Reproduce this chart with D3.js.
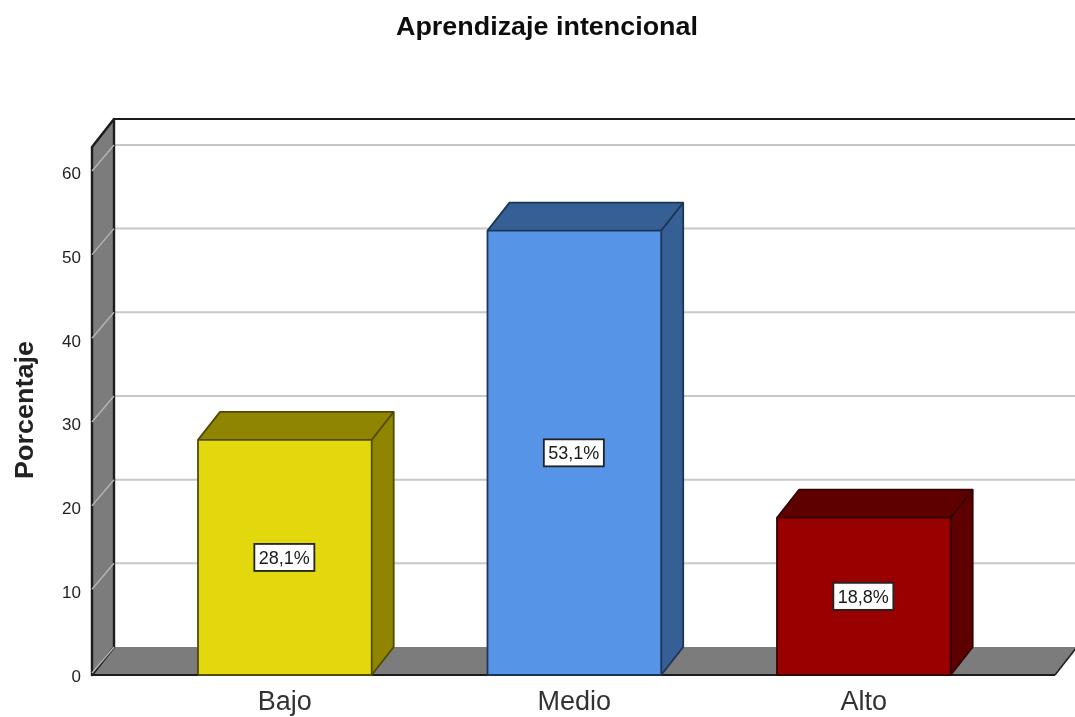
<!DOCTYPE html>
<html><head><meta charset="utf-8">
<script src="https://cdnjs.cloudflare.com/ajax/libs/d3/7.8.5/d3.min.js"></script>
<style>html,body{margin:0;padding:0;background:#fff}svg{display:block}text{font-family:"Liberation Sans",Arial,sans-serif}</style>
</head><body><svg id="c" width="1075" height="717"></svg>
<script>
const categories = ["Bajo","Medio","Alto"];
const values = [28.1,53.1,18.8];
const labels = ["28,1%","53,1%","18,8%"];
const frontColors = ["#e3d80f","#5594e6","#990000"];
const darkColors = ["#8f8506","#355f95","#5e0000"];
const yTicks = [0,10,20,30,40,50,60];
const title = "Aprendizaje intencional";
const yTitle = "Porcentaje";

const W=1075,H=717, dx=22, dy=-28, x0=92, x1=1055;
const svg=d3.select("#c");
const defs=svg.append("defs");
defs.append("filter").attr("id","soft").attr("filterUnits","userSpaceOnUse").attr("x",0).attr("y",0).attr("width",W).attr("height",H).append("feGaussianBlur").attr("stdDeviation",0.6);
const g=svg.append("g").attr("filter","url(#soft)");
const y=d3.scaleLinear().domain([0,63.1]).range([675,147]);
const x=d3.scaleBand().domain(categories).range([140.1,1008.6]).paddingInner(0.4).paddingOuter(0.2);
const wall="#7b7b7b", ink="#1c1c1c";
const pts=a=>a.map(p=>p.join(",")).join(" ");

g.append("rect").attr("width",W).attr("height",H).attr("fill","#fff");
// back wall grid
g.selectAll("line.grid").data(yTicks.filter(d=>d>0)).join("line")
 .attr("x1",x0+dx).attr("x2",W+5).attr("y1",d=>y(d)+dy).attr("y2",d=>y(d)+dy)
 .attr("stroke","#c8c8c8").attr("stroke-width",2);
g.append("line").attr("x1",x0+dx).attr("x2",W+5).attr("y1",y(63.1)+dy).attr("y2",y(63.1)+dy).attr("stroke",ink).attr("stroke-width",2);
// floor
g.append("polygon").attr("points",pts([[x0,675],[x0+dx,675+dy],[x1+dx,675+dy],[x1,675]])).attr("fill",wall);
g.append("line").attr("x1",x0).attr("x2",x1).attr("y1",675).attr("y2",675).attr("stroke",ink).attr("stroke-width",2);
g.append("line").attr("x1",x1).attr("x2",x1+dx).attr("y1",675).attr("y2",675+dy).attr("stroke",ink).attr("stroke-width",1.5);
// side wall
g.append("polygon").attr("points",pts([[x0,y(63.1)],[x0+dx,y(63.1)+dy],[x0+dx,675+dy],[x0,675]])).attr("fill",wall).attr("stroke",ink).attr("stroke-width",2.4).attr("stroke-linejoin","round");
g.selectAll("line.diag").data(yTicks).join("line")
 .attr("x1",x0).attr("x2",x0+dx).attr("y1",d=>y(d)-2).attr("y2",d=>y(d)+dy)
 .attr("stroke","#b4b4b4").attr("stroke-width",1.5);

// bars
const bars=g.selectAll("g.bar").data(categories).join("g");
bars.each(function(c,i){
  const s=d3.select(this), l=x(c), r=l+x.bandwidth(), t=y(values[i]), b=y(0);
  s.append("polygon").attr("points",pts([[l,t],[l+dx,t+dy],[r+dx,t+dy],[r,t]])).attr("fill",darkColors[i]);
  s.append("polygon").attr("points",pts([[r,t],[r+dx,t+dy],[r+dx,b+dy],[r,b]])).attr("fill",darkColors[i]);
  s.append("rect").attr("x",l).attr("y",t).attr("width",r-l).attr("height",b-t).attr("fill",frontColors[i]);
  s.selectAll("path").data([[[l,b],[l,t],[r,t],[r,b],[l,b]],[[l,t],[l+dx,t+dy],[r+dx,t+dy],[r+dx,b+dy],[r,b]],[[r,t],[r+dx,t+dy]]]).join("path")
   .attr("d",d3.line()).attr("fill","none").attr("stroke",d3.color(darkColors[i]).darker(1.6)).attr("stroke-width",1.8).attr("stroke-linejoin","round");
  const cx=(l+r)/2-0.5, cy=y(values[i]/2);
  s.append("rect").attr("x",cx-30).attr("y",cy-13.5).attr("width",60).attr("height",27).attr("fill","#fff").attr("stroke","#222").attr("stroke-width",1.8);
  s.append("text").attr("x",cx).attr("y",cy+6.5).attr("text-anchor","middle").attr("font-size",18).attr("fill","#1a1a1a").text(labels[i]);
});

// y labels
g.selectAll("text.yt").data(yTicks).join("text").attr("class","yt")
 .attr("x",81).attr("y",d=>y(d)+6.5).attr("text-anchor","end").attr("font-size",17).attr("fill","#222").text(d=>d);
// x labels
g.selectAll("text.xt").data(categories).join("text").attr("class","xt")
 .attr("x",c=>x(c)+x.bandwidth()/2).attr("y",710).attr("text-anchor","middle").attr("font-size",27).attr("fill","#333").text(c=>c);
// titles
g.append("text").attr("x",547).attr("y",35).attr("text-anchor","middle").attr("font-size",26).attr("textLength",302).attr("lengthAdjust","spacingAndGlyphs").attr("font-weight","bold").attr("fill","#111").text(title);
g.append("text").attr("transform","translate(33,410) rotate(-90)").attr("text-anchor","middle").attr("font-size",25).attr("textLength",138).attr("lengthAdjust","spacingAndGlyphs").attr("font-weight","bold").attr("fill","#222").text(yTitle);
</script></body></html>
